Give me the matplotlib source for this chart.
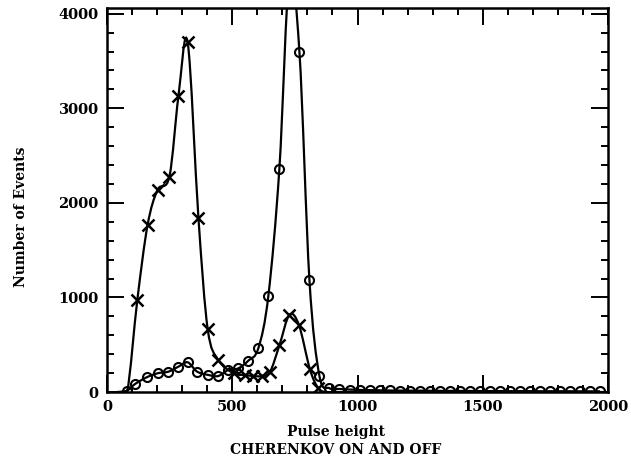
import matplotlib
matplotlib.use("Agg")
import matplotlib.pyplot as plt
from matplotlib.path import Path
from matplotlib.patches import PathPatch
from matplotlib.ticker import MultipleLocator

# Cherenkov ON (crosses) - pulse height vs events
on_x = [40, 80, 121, 162, 202, 249, 285, 322, 365, 402, 444, 505, 551, 584,
        617, 651, 688, 728, 766, 810, 844, 880, 1000, 1500, 2000]
on_y = [0, 0, 974, 1767, 2138, 2278, 3125, 3696, 1838, 663, 339, 198, 180, 169,
        169, 215, 492, 815, 709, 240, 40, 0, 0, 0, 0]

# Cherenkov OFF (circles)
off_x = [40, 80, 112, 158, 202, 245, 285, 322, 360, 405, 444, 484, 524, 564,
         604, 644, 688, 728, 768, 808, 848, 888, 928, 968, 1008, 1048, 1088,
         1128, 1168, 1208, 1248, 1288, 1328, 1368, 1408, 1448, 1488, 1528,
         1568, 1608, 1648, 1688, 1728, 1768, 1808, 1848, 1888, 1928, 1968]
off_y = [0, 15, 85, 155, 198, 215, 268, 314, 215, 180, 169, 233, 250, 331,
         462, 1016, 2360, 4400, 3600, 1185, 169, 40, 32, 26, 22, 20, 18,
         16, 15, 14, 14, 13, 12, 12, 11, 11, 10, 10,
         10, 9, 9, 9, 8, 8, 8, 8, 7, 7, 7]

FONT = dict(family="DejaVu Serif", weight="bold")


def smooth_path(xs, ys):
    # catmull-rom curve drawn as bezier segments
    pts = list(zip(xs, ys))
    verts = [pts[0]]
    codes = [Path.MOVETO]
    n = len(pts)
    for i in range(n - 1):
        p0 = pts[i - 1] if i > 0 else pts[i]
        p1 = pts[i]
        p2 = pts[i + 1]
        p3 = pts[i + 2] if i + 2 < n else pts[i + 1]
        c1 = (p1[0] + (p2[0] - p0[0]) / 6, p1[1] + (p2[1] - p0[1]) / 6)
        c2 = (p2[0] - (p3[0] - p1[0]) / 6, p2[1] - (p3[1] - p1[1]) / 6)
        verts += [c1, c2, p2]
        codes += [Path.CURVE4] * 3
    return Path(verts, codes)


fig = plt.figure(figsize=(6.31, 4.62), dpi=100)
ax = fig.add_axes([0.1696, 0.1515, 0.794, 0.8312])

for xs, ys in [(on_x, on_y), (off_x, off_y)]:
    ax.add_patch(PathPatch(smooth_path(xs, ys), facecolor="none",
                           edgecolor="black", lw=1.6))

ax.plot(on_x[2:21], on_y[2:21], ls="none", marker="x", ms=8, mew=1.8,
        color="black")
ax.plot(off_x[1:], off_y[1:], ls="none", marker="o", ms=6.5, mew=1.5,
        mfc="none", color="black")

ax.set_xlim(0, 2000)
ax.set_ylim(0, 4060)
ax.xaxis.set_major_locator(MultipleLocator(500))
ax.xaxis.set_minor_locator(MultipleLocator(100))
ax.yaxis.set_major_locator(MultipleLocator(1000))
ax.yaxis.set_minor_locator(MultipleLocator(200))
ax.tick_params(which="both", direction="in", top=True, right=True, width=1.4)
ax.tick_params(which="major", length=12, pad=6)
ax.tick_params(which="minor", length=5)
for s in ax.spines.values():
    s.set_linewidth(1.8)
for lab in ax.get_xticklabels() + ax.get_yticklabels():
    lab.set_fontfamily(FONT["family"])
    lab.set_fontweight(FONT["weight"])
    lab.set_fontsize(10.5)

ax.set_xlabel("Pulse height", fontsize=10, labelpad=4, **FONT)
ax.xaxis.set_label_coords(0.457, -0.085)
fig.text(336 / 631, 1 - 450 / 462, "CHERENKOV ON AND OFF", ha="center",
         va="center", fontsize=10, **FONT)
fig.text(21 / 631, 1 - 217 / 462, "Number of Events", rotation=90,
         ha="center", va="center", fontsize=10, **FONT)

fig.savefig("out.png", dpi=100)
